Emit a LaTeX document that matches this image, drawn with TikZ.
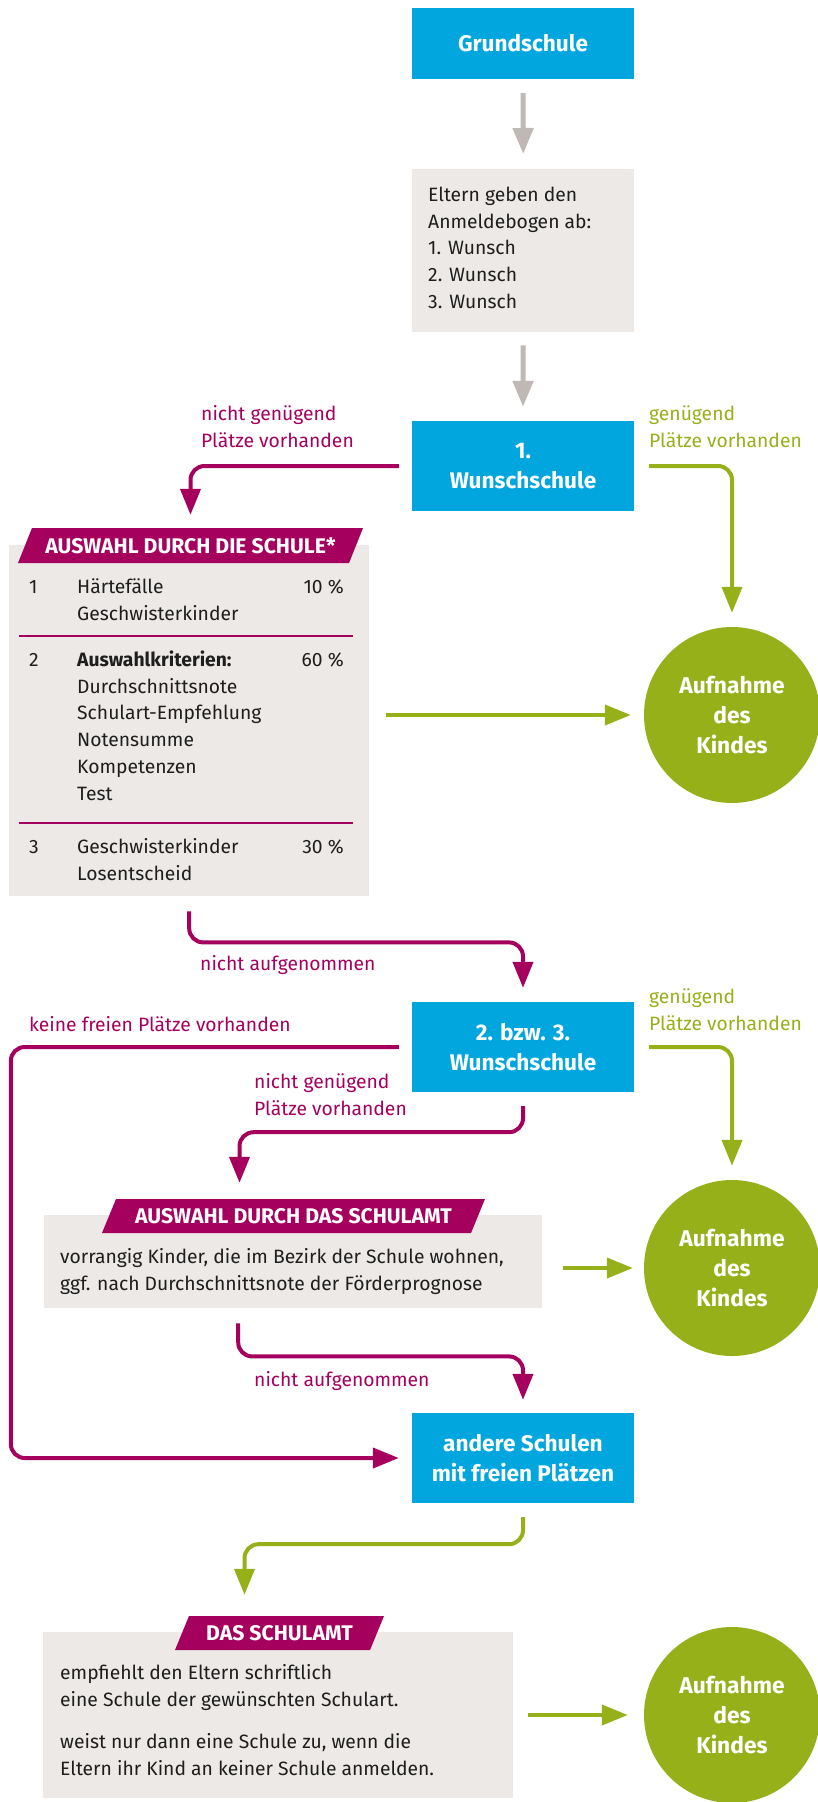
\documentclass[tikz,border=0pt]{standalone}
\usepackage{fontspec}
\setmainfont{Fira Sans}
\usetikzlibrary{arrows.meta,calc}
\definecolor{sblue}{RGB}{0,166,221}
\definecolor{smag}{RGB}{165,0,94}
\definecolor{sgreen}{RGB}{150,176,26}
\definecolor{sgray}{RGB}{236,233,230}
\definecolor{sarrow}{RGB}{191,184,181}
\definecolor{stext}{RGB}{30,30,30}
\begin{document}
\begin{tikzpicture}[x=1pt,y=-1pt,
  bluebox/.style={fill=sblue, text=white, font=\fontsize{22.6}{30}\selectfont\bfseries, align=center, minimum width=222pt, minimum height=90pt, inner sep=0pt},
  graybox/.style={fill=sgray, inner sep=0pt, anchor=north west},
  body/.style={font=\fontsize{19.3}{26.8}\selectfont, text=stext, inner sep=0pt, align=left, anchor=north west},
  maglabel/.style={body, text=smag},
  grnlabel/.style={body, text=sgreen},
  goal/.style={circle, fill=sgreen, minimum size=176pt, inner sep=0pt, text=white, font=\fontsize{22.8}{30}\selectfont\bfseries, align=center},
  banner/.style={inner sep=0pt, minimum height=35pt, text=white, font=\fontsize{21.2}{24}\selectfont\bfseries,
    path picture={\fill[smag] ([xshift=14pt]path picture bounding box.north west) -- (path picture bounding box.north east) -- ([xshift=-14pt]path picture bounding box.south east) -- (path picture bounding box.south west) -- cycle;}},
  con/.style={line width=4pt, rounded corners=14pt, -{Triangle[length=26pt,width=20pt]}},
  magarr/.style={con, draw=smag},
  grnarr/.style={con, draw=sgreen},
  grayarr/.style={line width=5pt, draw=sarrow, -{Triangle[length=26pt,width=20pt]}},
  sepline/.style={draw=smag, line width=2.5pt}
]
\useasboundingbox (0,0) rectangle (817,1802);

% top part
\node[bluebox, minimum height=71pt] (grund) at (523,43.5) {Grundschule};
\node[graybox, minimum width=222pt, minimum height=163pt] (eltern) at (412,169) {};
\node[body] (elterntext) at (428,182.3) {\strut Eltern geben den\\\strut Anmeldebogen ab:\\\strut 1. Wunsch\\\strut 2. Wunsch\\\strut 3. Wunsch};
\node[bluebox] (w1) at (523,466) {1.\\Wunschschule};
\node[maglabel] (l1) at (201,401.3) {\strut nicht genügend\\\strut Plätze vorhanden};
\node[grnlabel] (l2) at (649,401.3) {\strut genügend\\\strut Plätze vorhanden};
\node[goal] (c1) at (732,715) {Aufnahme\\des\\Kindes};

% Auswahl durch die Schule
\node[graybox, minimum width=360pt, minimum height=351pt] (aus1) at (9,545) {};
\node[banner, minimum width=345pt] (ban1) at (190.5,545.5) {AUSWAHL DURCH DIE SCHULE*};
\draw[sepline] (19,636) -- (353,636);
\draw[sepline] (19,823) -- (353,823);
\node[body] (n1) at (29,574.3) {\strut 1};
\node[body] (t1) at (77,574.3) {\strut Härtefälle\\\strut Geschwisterkinder};
\node[body, anchor=north east] (p1) at (344,574.3) {\strut 10 \%};
\node[body] (n2) at (29,647.3) {\strut 2};
\node[body] (t2) at (77,647.3) {\strut\textbf{Auswahlkriterien:}\\\strut Durchschnittsnote\\\strut Schulart-Empfehlung\\\strut Notensumme\\\strut Kompetenzen\\\strut Test};
\node[body, anchor=north east] (p2) at (344,647.3) {\strut 60 \%};
\node[body] (n3) at (29,834.3) {\strut 3};
\node[body] (t3) at (77,834.3) {\strut Geschwisterkinder\\\strut Losentscheid};
\node[body, anchor=north east] (p3) at (344,834.3) {\strut 30 \%};

% second wish
\node[maglabel] (l3) at (200,951.3) {\strut nicht aufgenommen};
\node[bluebox] (w2) at (523,1047) {2. bzw. 3.\\Wunschschule};
\node[maglabel] (l4) at (29,1012.3) {\strut keine freien Plätze vorhanden};
\node[grnlabel] (l5) at (649,984.3) {\strut genügend\\\strut Plätze vorhanden};
\node[maglabel] (l6) at (254,1069.3) {\strut nicht genügend\\\strut Plätze vorhanden};
\node[goal] (c2) at (732,1268) {Aufnahme\\des\\Kindes};

\node[graybox, minimum width=498pt, minimum height=93pt] (aus2) at (44,1215) {};
\node[banner, minimum width=383pt, minimum height=34pt] (ban2) at (293.5,1216) {AUSWAHL DURCH DAS SCHULAMT};
\node[body] (aus2text) at (60,1244.3) {\strut vorrangig Kinder, die im Bezirk der Schule wohnen,\\\strut ggf. nach Durchschnittsnote der Förderprognose};
\node[maglabel] (l7) at (254,1367.3) {\strut nicht aufgenommen};

% other schools
\node[bluebox] (andere) at (523,1458) {andere Schulen\\mit freien Plätzen};
\node[graybox, minimum width=470pt, minimum height=166pt] (aus3) at (43,1632) {};
\node[banner, minimum width=209pt, minimum height=34pt] (ban3) at (279.5,1633) {DAS SCHULAMT};
\node[body] (aus3a) at (60,1660.3) {\strut empfiehlt den Eltern schriftlich\\\strut eine Schule der gewünschten Schulart.};
\node[body] (aus3b) at (60,1729.3) {\strut weist nur dann eine Schule zu, wenn die\\\strut Eltern ihr Kind an keiner Schule anmelden.};
\node[goal] (c3) at (732,1715) {Aufnahme\\des\\Kindes};

% connectors
\draw[grayarr] ([yshift=-14pt]grund.south) -- ([yshift=15pt]eltern.north);
\draw[grayarr] ([yshift=-13pt]eltern.south) -- ([yshift=14pt]w1.north);
\draw[magarr] ([xshift=-13pt]w1.west) -| ([yshift=13pt]ban1.north);
\draw[grnarr] ([xshift=15pt]w1.east) -| ([yshift=14pt]c1.north);
\draw[grnarr] ($(aus1.east |- c1.west)+(17,0)$) -- ([xshift=-13pt]c1.west);
\draw[magarr] ([yshift=-15pt]aus1.south) -- ++(0,31) -| ([yshift=14pt]w2.north);
\draw[grnarr] ([xshift=15pt]w2.east) -| ([yshift=14pt]c2.north);
\draw[magarr] ([xshift=-13pt]w2.west) -| ($(andere.west)+(-401,0)$) -- ([xshift=-13pt]andere.west);
\draw[magarr] ([yshift=-14pt]w2.south) -- ++(0,26) -| ($(ban2.north)+(-54,-16)$);
\draw[grnarr] ($(aus2.east |- c2.west)+(21,0)$) -- ([xshift=-11pt]c2.west);
\draw[magarr] ($(aus2.south)+(-55,15)$) -- ++(0,33) -| ([yshift=13pt]andere.north);
\draw[grnarr] ([yshift=-14pt]andere.south) -- ++(0,27) -| ($(ban3.north)+(-35,-21)$);
\draw[grnarr] ($(aus3.east |- c3.west)+(15,0)$) -- ([xshift=-16pt]c3.west);
\end{tikzpicture}
\end{document}
